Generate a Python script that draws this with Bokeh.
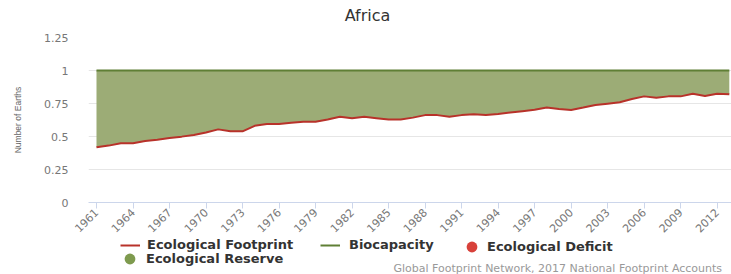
from bokeh.plotting import figure
from bokeh.layouts import column
from bokeh.models import (ColumnDataSource, Range1d, FixedTicker, Legend,
                          LegendItem, Label)
from bokeh.embed import file_html
from bokeh.resources import INLINE

# ---------------- data ----------------
years = list(range(1961, 2014))
footprint = [0.419, 0.431, 0.449, 0.449, 0.466, 0.476, 0.489, 0.499, 0.511, 0.531,
             0.554, 0.539, 0.539, 0.581, 0.594, 0.594, 0.604, 0.611, 0.611, 0.629,
             0.649, 0.639, 0.649, 0.639, 0.629, 0.629, 0.643, 0.662, 0.662, 0.649,
             0.662, 0.669, 0.662, 0.671, 0.682, 0.692, 0.702, 0.719, 0.709, 0.701,
             0.719, 0.739, 0.749, 0.759, 0.784, 0.804, 0.794, 0.804, 0.804, 0.824,
             0.807, 0.824, 0.820]
biocapacity = [1.0, 1.0, 1.0, 1.0, 1.0, 1.0, 1.0, 1.0, 1.0, 1.0,
               1.0, 1.0, 1.0, 1.0, 1.0, 1.0, 1.0, 1.0, 1.0, 1.0,
               1.0, 1.0, 1.0, 1.0, 1.0, 1.0, 1.0, 1.0, 1.0, 1.0,
               1.0, 1.0, 1.0, 1.0, 1.0, 1.0, 1.0, 1.0, 1.0, 1.0,
               1.0, 1.0, 1.0, 1.0, 1.0, 1.0, 1.0, 1.0, 1.0, 1.0,
               1.0, 1.0, 1.0]
x_ticks = [1961, 1964, 1967, 1970, 1973, 1976, 1979, 1982, 1985, 1988,
           1991, 1994, 1997, 2000, 2003, 2006, 2009, 2012]
y_ticks = [0.0, 0.25, 0.5, 0.75, 1.0, 1.25]
y_tick_labels = ["0", "0.25", "0.5", "0.75", "1", "1.25"]
title_text = "Africa"
y_title = "Number of Earths"
credit_text = "Global Footprint Network, 2017 National Footprint Accounts"
series_names = ["Ecological Footprint", "Biocapacity", "Ecological Deficit", "Ecological Reserve"]

FP_COLOR = "#b8322a"
BC_COLOR = "#5f7f35"
DEF_COLOR = "#d8413a"
RES_COLOR = "#7e9a4e"
AREA_COLOR = "#9cac76"
W = 731
LEFT = 88


def strip(height):
    f = figure(width=W, height=height, output_backend="svg", toolbar_location=None,
               x_range=Range1d(0, 1), y_range=Range1d(0, 1),
               x_axis_location=None, y_axis_location=None,
               min_border_left=LEFT, min_border_right=0,
               min_border_top=0, min_border_bottom=0)
    f.outline_line_color = None
    f.grid.visible = False
    return f


# ---------------- title strip ----------------
t = strip(30)
t.add_layout(Label(x=279, y=15, x_units="screen", y_units="screen", text=title_text,
                   text_align="center", text_baseline="middle", text_font="DejaVu Sans",
                   text_font_size="16px", text_color="#333333"))

# ---------------- main chart ----------------
p = figure(width=W, height=208, output_backend="svg", toolbar_location=None,
           x_range=Range1d(1960.343, 2013.18), y_range=Range1d(0, 1.25),
           min_border_left=LEFT, min_border_right=0, min_border_top=7,
           min_border_bottom=34)
p.outline_line_color = None

src = ColumnDataSource(dict(year=years, fp=footprint, bc=biocapacity))
p.varea(x="year", y1="fp", y2="bc", source=src, fill_color=AREA_COLOR, fill_alpha=1.0)
p.line("year", "bc", source=src, line_color=BC_COLOR, line_width=2)
p.line("year", "fp", source=src, line_color=FP_COLOR, line_width=2)

p.xaxis.ticker = FixedTicker(ticks=x_ticks)
p.xaxis.major_label_orientation = 0.785398
p.xaxis.major_tick_out = 6
p.xaxis.major_tick_in = 0
p.xaxis.major_tick_line_color = "#ccd6eb"
p.xaxis.axis_line_color = "#ccd6eb"
p.xaxis.minor_tick_line_color = None
p.xaxis.major_label_standoff = 2
p.xaxis.major_label_text_font = "DejaVu Sans"
p.xaxis.major_label_text_font_size = "11px"
p.xaxis.major_label_text_color = "#777777"

p.yaxis.ticker = FixedTicker(ticks=y_ticks)
p.yaxis.major_label_overrides = dict(zip(y_ticks, y_tick_labels))
p.yaxis.axis_line_color = None
p.yaxis.major_tick_line_color = None
p.yaxis.minor_tick_line_color = None
p.yaxis.major_label_standoff = 14
p.yaxis.major_label_text_font = "DejaVu Sans"
p.yaxis.major_label_text_font_size = "11px"
p.yaxis.major_label_text_color = "#777777"
p.yaxis.axis_label = y_title
p.yaxis.axis_label_text_font = "Liberation Sans"
p.yaxis.axis_label_text_font_size = "8.5px"
p.yaxis.axis_label_text_font_style = "normal"
p.yaxis.axis_label_text_color = "#666666"
p.yaxis.axis_label_standoff = 18

p.xgrid.grid_line_color = None
p.ygrid.grid_line_color = "#e6e6e6"

# ---------------- legend + credit strip ----------------
lg = strip(36)
dummy = ColumnDataSource(dict(x=[float("nan")], y=[float("nan")]))
l_fp = lg.line("x", "y", source=dummy, line_color=FP_COLOR, line_width=2)
l_bc = lg.line("x", "y", source=dummy, line_color=BC_COLOR, line_width=2)
l_def = lg.scatter("x", "y", source=dummy, fill_color=DEF_COLOR, line_color=None)
l_res = lg.scatter("x", "y", source=dummy, fill_color=RES_COLOR, line_color=None)


def add_leg(label, renderer, vx, vy, gw, gh, standoff):
    leg = Legend(items=[LegendItem(label=label, renderers=[renderer])],
                 location=(vx, vy), orientation="horizontal", padding=0, spacing=0,
                 glyph_width=gw, glyph_height=gh, label_height=gh,
                 label_standoff=standoff, label_text_font="DejaVu Sans",
                 label_text_font_style="bold", label_text_font_size="13px",
                 label_text_color="#333333", background_fill_alpha=0,
                 border_line_color=None, margin=0)
    lg.add_layout(leg, "center")


add_leg(series_names[0], l_fp, 32, 22, 20, 12, 7)
add_leg(series_names[1], l_bc, 232, 22, 20, 12, 9)
add_leg(series_names[2], l_def, 370, 14, 27, 27, 2)
add_leg(series_names[3], l_res, 28, 2, 27, 27, 3)

lg.add_layout(Label(x=305, y=6, x_units="screen", y_units="screen", text=credit_text,
                    text_align="left", text_baseline="middle", text_font="DejaVu Sans",
                    text_font_size="11px", text_color="#999999"))

layout = column(t, p, lg, spacing=0)
open("out.html", "w").write(file_html(layout, INLINE))
